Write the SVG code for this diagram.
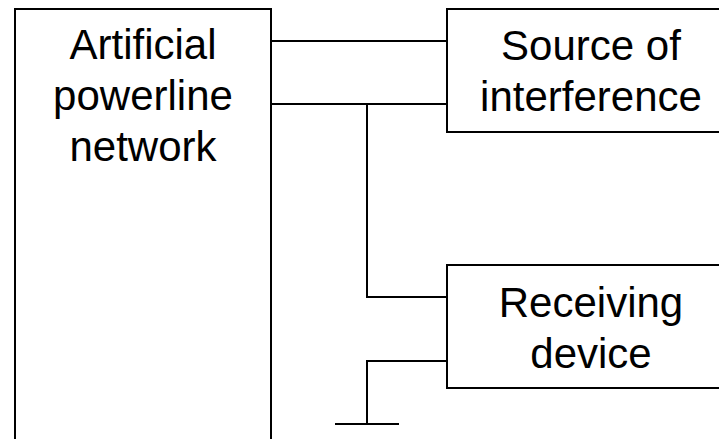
<svg xmlns="http://www.w3.org/2000/svg" width="719" height="439" viewBox="0 0 719 439">
<style>
.box{fill:#fff;stroke:#000;stroke-width:2}
.ln{fill:none;stroke:#000;stroke-width:2}
.t{font-family:"Liberation Sans",Arial,sans-serif;font-size:42px;fill:#000;text-anchor:middle}
</style>
<rect width="719" height="439" fill="#fff"/>
<g id="connectors">
<path class="ln" d="M271 41H447M271 104H447M367 104V297H447M447 361H367V424M335 424H399"/>
</g>
<g id="apn">
<rect class="box" x="15" y="9" width="256" height="440"/>
<text class="t" x="143" y="59">Artificial</text>
<text class="t" x="143" y="110">powerline</text>
<text class="t" x="143" y="161">network</text>
</g>
<g id="source">
<rect class="box" x="447" y="9" width="290" height="123"/>
<text class="t" x="591" y="60">Source of</text>
<text class="t" x="591" y="111">interference</text>
</g>
<g id="receiver">
<rect class="box" x="447" y="265" width="290" height="123"/>
<text class="t" x="591" y="317">Receiving</text>
<text class="t" x="591" y="368">device</text>
</g>
</svg>
